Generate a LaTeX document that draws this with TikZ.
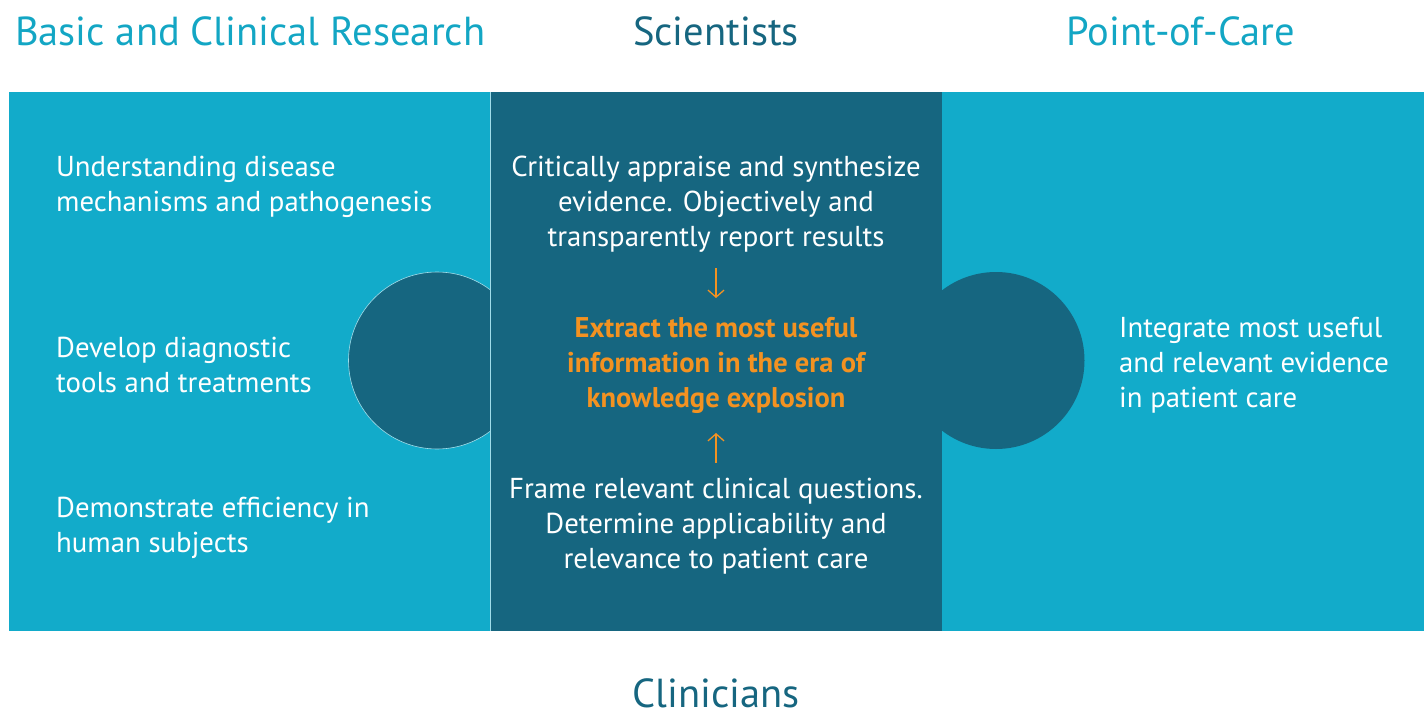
\documentclass[tikz,border=0pt]{standalone}
\usepackage{fontspec}
\setmainfont{PT Sans}
\usetikzlibrary{arrows.meta}
\definecolor{lightc}{HTML}{12ABCA}
\definecolor{darkc}{HTML}{166680}
\definecolor{titlec}{HTML}{13A6C4}
\definecolor{orangec}{HTML}{F39221}
\tikzset{
  title/.style={font=\fontsize{40.5}{44}\selectfont, inner sep=0pt},
  body/.style={font=\fontsize{28.8}{35}\selectfont, text=white, inner sep=0pt},
  emph/.style={font=\bfseries\fontsize{28.5}{35}\selectfont, text=orangec, inner sep=0pt, align=center},
  flowarrow/.style={draw=orangec, line width=1.3pt, -{Straight Barb[length=7pt,width=16pt,line width=1.3pt]}}
}
\begin{document}
\begin{tikzpicture}[x=1pt,y=-1pt]
\useasboundingbox (0,0) rectangle (1428,715);
% panels
\fill[lightc] (9,92) rectangle (1424,631);
\fill[darkc, draw=white!60!lightc, line width=0.6pt] (437,360.5) circle (88.5);
\fill[darkc] (996,360.5) circle (88.5);
\fill[darkc] (490,92) rectangle (942,631);
\draw[white!60!lightc, line width=0.6pt] (490,92) -- (490,631);
% titles
\node[title, text=titlec, anchor=west] (t1) at (15,31) {Basic and Clinical Research};
\node[title, text=darkc] (t2) at (716,31) {Scientists};
\node[title, text=titlec] (t3) at (1181,31) {Point-of-Care};
\node[title, text=darkc] (t4) at (716,693) {Clinicians};
% left texts
\node[body, anchor=west, align=left] (l1) at (56,186.5) {Understanding disease\\mechanisms and pathogenesis};
\node[body, anchor=west, align=left] (l2) at (56,364.5) {Develop diagnostic\\tools and treatments};
\node[body, anchor=west, align=left] (l3) at (56,527.5) {Demonstrate efficiency in\\human subjects};
% middle texts
\node[body, align=center] (m1) at (716,204) {Critically appraise and synthesize\\evidence. Objectively and\\transparently report results};
\node[emph] (m2) at (716,365) {Extract the most useful\\information in the era of\\knowledge explosion};
\node[body, align=center] (m3) at (716,526) {Frame relevant clinical questions.\\Determine applicability and\\relevance to patient care};
\coordinate (a1s) at (716,268);
\coordinate (a1e) at (716,298);
\coordinate (a2s) at (716,463);
\coordinate (a2e) at (716,433);
\draw[flowarrow] (a1s) -- (a1e);
\draw[flowarrow] (a2s) -- (a2e);
% right text
\node[body, anchor=west, align=left] (r1) at (1119,365) {Integrate most useful\\and relevant evidence\\in patient care};
\end{tikzpicture}
\end{document}
